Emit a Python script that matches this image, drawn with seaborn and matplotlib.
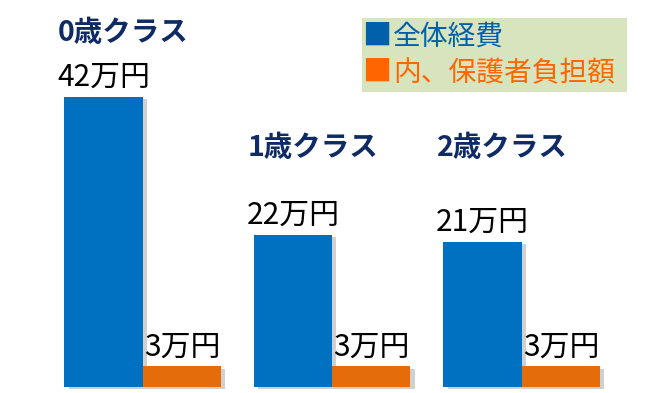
import matplotlib
matplotlib.use("Agg")
import matplotlib.pyplot as plt
import matplotlib.patheffects as pe
from matplotlib.patches import Rectangle
import pandas as pd
import seaborn as sns

# ---- data ----
classes = ["0歳クラス", "1歳クラス", "2歳クラス"]
series = ["全体経費", "内、保護者負担額"]
total_cost = [42, 22, 21]
parent_cost = [3, 3, 3]
unit = "万円"

# ---- layout / style ----
title_y = [51.3, 34.6, 34.6]
blue = "#0070C0"
orange = "#E46C0A"
legend_blue = "#0060AA"
legend_orange = "#FF6600"
title_color = "#0F2B66"

sns.set_theme(style="white")
plt.rcParams["font.family"] = ["Noto Sans CJK JP", "DejaVu Sans"]

df = pd.DataFrame({
    "class": classes * 2,
    "series": [series[0]] * 3 + [series[1]] * 3,
    "value": total_cost + parent_cost,
})

fig = plt.figure(figsize=(6.54, 3.93), dpi=100)
ax = fig.add_axes([0, 0, 1, 1])
sns.barplot(data=df, x="class", y="value", hue="series", order=classes,
            hue_order=series, palette=[blue, orange], width=0.826,
            saturation=1, legend=False, ax=ax)

for p in ax.patches:
    p.set_linewidth(0)
    p.set_path_effects([pe.SimplePatchShadow(offset=(3, -2), shadow_rgbFace="#666666", alpha=0.3),
                        pe.Normal()])

for cont in ax.containers:
    for bar in cont:
        h = bar.get_height()
        ax.annotate(f"{h:g}{unit}", (bar.get_x() + bar.get_width() / 2, h),
                    xytext=(0, 2.5), textcoords="offset points",
                    ha="center", va="bottom", fontsize=21.5, color="black")

for i, name in enumerate(classes):
    ax.text(i - 0.447, title_y[i], name, ha="left", va="center",
            fontsize=20.5, fontweight="bold", color=title_color)

# legend box
ax.add_patch(Rectangle((362 / 654, 1 - 92 / 393), (627 - 362) / 654, (92 - 18) / 393,
                       transform=ax.transAxes, facecolor="#D8E4BE", edgecolor="none", zorder=3))
for k, (lbl, col, ypix) in enumerate([(series[0], legend_blue, 37), (series[1], legend_orange, 73)]):
    ax.text(362 / 654, 1 - ypix / 393, "■", transform=ax.transAxes,
            ha="left", va="center", fontsize=21, color=col, zorder=4)
    ax.text(393 / 654, 1 - ypix / 393, lbl, transform=ax.transAxes,
            ha="left", va="center", fontsize=20, color=col, zorder=4)

scale = 6.9
ax.set_xlim(-142.7 / 189.5, (654 - 142.7) / 189.5)
ax.set_ylim(-(393 - 386.5) / scale, 386.5 / scale)
ax.axis("off")
fig.savefig("out.png", dpi=100)
